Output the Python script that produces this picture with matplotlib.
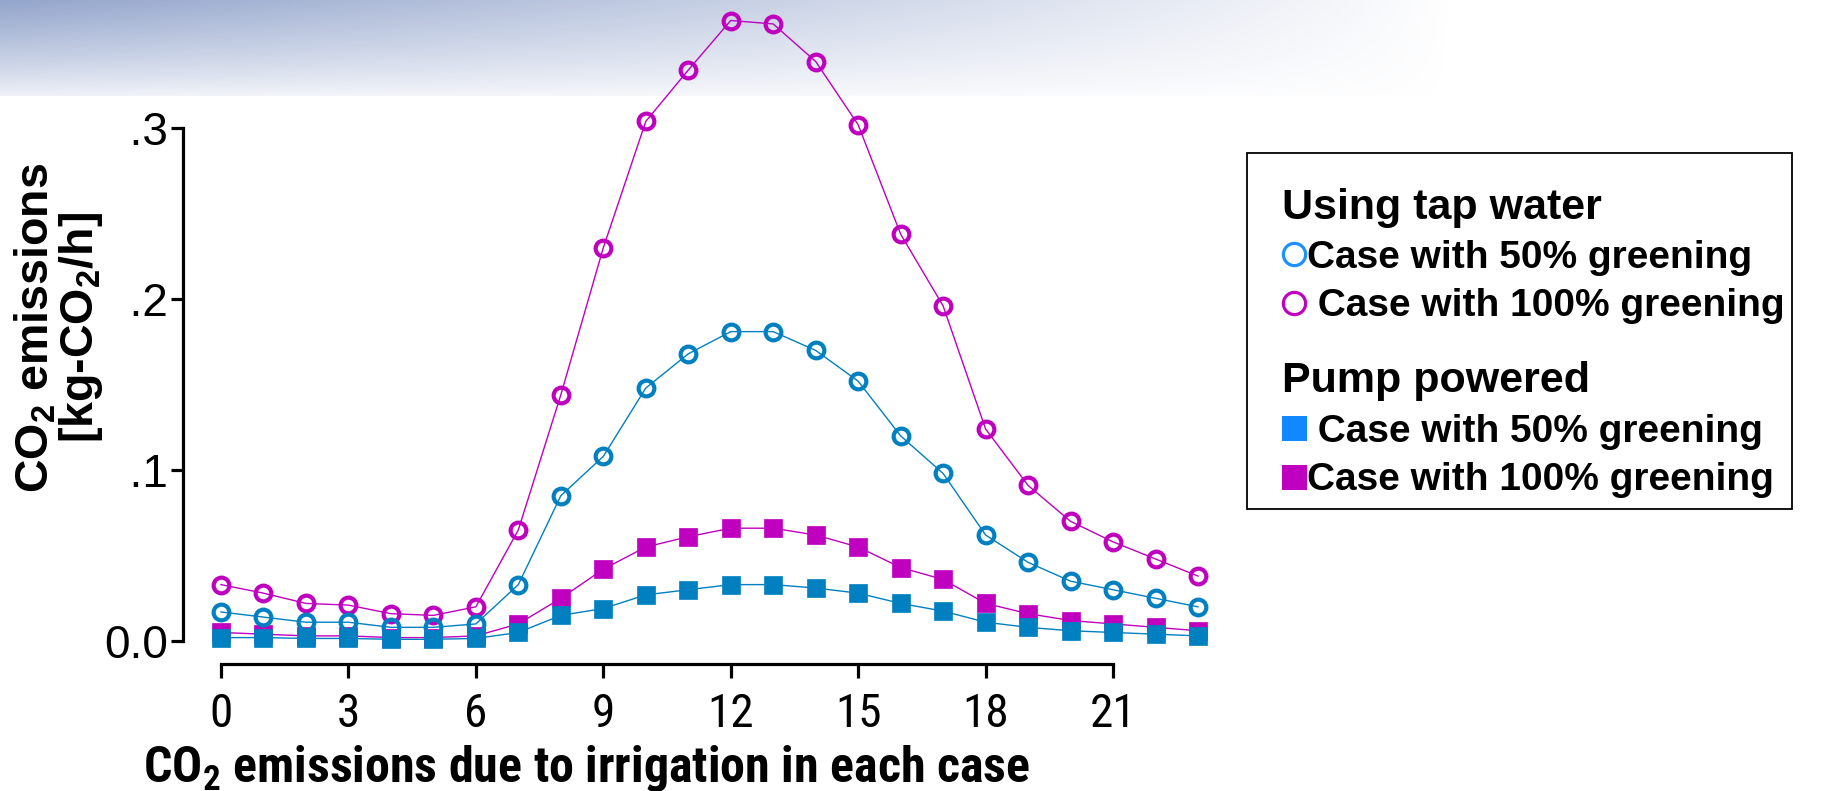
import numpy as np
import matplotlib
matplotlib.use("Agg")
import matplotlib.pyplot as plt
from matplotlib import font_manager as fm
from matplotlib.lines import Line2D
from matplotlib.patches import Rectangle
from matplotlib.font_manager import FontProperties
from matplotlib.transforms import Bbox, TransformedBbox

plt.rcParams['font.family'] = ['Liberation Sans', 'DejaVu Sans']
plt.rcParams['mathtext.default'] = 'regular'

W, H = 1827, 791

hours = list(range(24))
tap_50 = [0.017, 0.014, 0.011, 0.011, 0.008, 0.008, 0.010, 0.033, 0.085, 0.108, 0.148, 0.168,
          0.181, 0.181, 0.170, 0.152, 0.120, 0.098, 0.062, 0.046, 0.035, 0.030, 0.025, 0.020]
tap_100 = [0.033, 0.028, 0.022, 0.021, 0.016, 0.015, 0.020, 0.065, 0.144, 0.230, 0.304, 0.334,
           0.363, 0.361, 0.339, 0.302, 0.238, 0.196, 0.124, 0.091, 0.070, 0.058, 0.048, 0.038]
pump_50 = [0.002, 0.002, 0.0015, 0.0015, 0.001, 0.001, 0.0015, 0.005, 0.015, 0.019, 0.027, 0.030,
           0.033, 0.033, 0.031, 0.028, 0.022, 0.0175, 0.011, 0.008, 0.006, 0.005, 0.004, 0.003]
pump_100 = [0.005, 0.004, 0.003, 0.003, 0.002, 0.002, 0.003, 0.010, 0.025, 0.042, 0.055, 0.061,
            0.066, 0.066, 0.062, 0.055, 0.043, 0.036, 0.022, 0.016, 0.012, 0.010, 0.008, 0.006]

xticks = [0, 3, 6, 9, 12, 15, 18, 21]
yticks = [0.0, 0.1, 0.2, 0.3]
ytick_labels = ['0.0', '0.1', '0.2', '0.3']

mag = '#BF00BF'
blue = '#0080C0'


def has_font(name):
    try:
        fm.findfont(FontProperties(family=name), fallback_to_default=False)
        return True
    except ValueError:
        return False


narrow = next((f for f in ['Liberation Sans Narrow', 'Roboto Condensed', 'Open Sans Condensed']
               if has_font(f)), None)
if narrow:
    narrow_fam = [narrow, 'Liberation Sans']
    xtick_size, xlabel_size = 34, 36
else:
    narrow_fam = ['Liberation Sans']
    xtick_size, xlabel_size = 32, 30

fig = plt.figure(figsize=(W / 100, H / 100), dpi=100)

# faded banner at the top (slide background)
bg = fig.add_axes([0, 0, 1, 1], zorder=-10)
bg.axis('off')
yy, xx = np.mgrid[0:H, 0:W]
alpha = np.clip(1 - xx / 1450.0, 0, 1) ** 0.9 * np.clip(1 - yy / 105.0, 0, 1) ** 0.8
alpha[yy > 95] = 0
img = np.ones((H, W, 4))
img[..., 0], img[..., 1], img[..., 2] = 0.58, 0.65, 0.80
img[..., 3] = alpha
bg.imshow(img, extent=(0, W, H, 0), aspect='auto')
bg.set_xlim(0, W)
bg.set_ylim(H, 0)

# main axes
left, right = 178.5, 1223.5
top, bottom = 0.0, 683.75
ax = fig.add_axes([left / W, (H - bottom) / H, (right - left) / W, (bottom - top) / H])
ax.patch.set_alpha(0)
ax.set_xlim(-1.0, 23.6)
ax.set_ylim(-0.025, 0.375)

ax.plot(hours, pump_100, color=mag, lw=1.0, marker='s', ms=13, mfc=mag, mec=mag, mew=0.5,
        clip_on=False, zorder=3)
ax.plot(hours, pump_50, color=blue, lw=1.0, marker='s', ms=13, mfc=blue, mec=blue, mew=0.5,
        clip_on=False, zorder=4)
ax.plot(hours, tap_100, color=mag, lw=1.0, marker='o', ms=11.3, mfc='none', mec=mag, mew=3.0,
        clip_on=False, zorder=5)
ax.plot(hours, tap_50, color=blue, lw=1.0, marker='o', ms=11.3, mfc='none', mec=blue, mew=3.0,
        clip_on=False, zorder=6)

for s in ['top', 'right']:
    ax.spines[s].set_visible(False)
ax.spines['left'].set_position(('data', -0.895))
ax.spines['left'].set_bounds(0, 0.3)
ax.spines['bottom'].set_position(('data', -0.0135))
ax.spines['bottom'].set_bounds(0, 21)
for s in ['left', 'bottom']:
    ax.spines[s].set_linewidth(2.3)

ax.set_xticks(xticks)
ax.set_xticklabels([str(t) for t in xticks], family=narrow_fam, fontsize=xtick_size)
ax.set_yticks(yticks)
ax.set_yticklabels(ytick_labels, fontsize=33)
ax.tick_params(axis='x', direction='out', length=10, width=2.3, pad=10)
ax.tick_params(axis='y', direction='out', length=9, width=2.3, pad=2)

# left part of upper y labels is hidden in the original
clip = TransformedBbox(Bbox([[132 / W, 0], [1, 1]]), fig.transFigure)
for lbl in ax.get_yticklabels():
    if lbl.get_text() != '0.0':
        lbl.set_clip_on(True)
        lbl.set_clip_box(clip)

fig.text(587 / W, 1 - 769 / H, 'CO$_2$ emissions due to irrigation in each case',
         ha='center', va='center', fontsize=xlabel_size, weight='bold', family=narrow_fam)
fig.text(59 / W, 1 - 328 / H, 'CO$_2$ emissions\n[kg-CO$_2$/h]', rotation=90,
         ha='center', va='center', multialignment='center', fontsize=33.5, weight='bold',
         linespacing=0.95)

# legend
handles = [
    Line2D([], [], ls='none'),
    Line2D([], [], ls='none', marker='o', ms=16, mfc='none', mec='#1E90FF', mew=2.3),
    Line2D([], [], ls='none', marker='o', ms=16, mfc='none', mec='#C000C0', mew=2.3),
    Line2D([], [], ls='none'),
    Line2D([], [], ls='none'),
    Line2D([], [], ls='none', marker='s', ms=18, mfc='#1188FF', mec='#1188FF', mew=0),
    Line2D([], [], ls='none', marker='s', ms=18, mfc='#C000C0', mec='#C000C0', mew=0),
]
labels = ['Using tap water', 'Case with 50% greening', ' Case with 100% greening', ' ',
          'Pump powered', ' Case with 50% greening', 'Case with 100% greening']
leg = ax.legend(handles, labels, loc='upper left', bbox_to_anchor=(1247 / W, 1 - 153 / H),
                bbox_transform=fig.transFigure, frameon=False,
                prop=FontProperties(family='Liberation Sans', weight='bold', size=28),
                handlelength=0.65, handletextpad=0.0, labelspacing=0.32,
                borderpad=0.89, borderaxespad=0)
texts = leg.get_texts()
texts[0].set_fontsize(31)
texts[4].set_fontsize(31)
texts[3].set_fontsize(9)

# headings start at the left edge, without handle space; spacer row kept thin
for col in leg._legend_handle_box.get_children():
    for i, hp in enumerate(col.get_children()):
        if labels[i] in ('Using tap water', 'Pump powered', ' '):
            hp.get_children()[0].width = 0
            hp.sep = 0
        if labels[i] == ' ':
            hp.get_children()[0].height = 0

# legend box
fig.patches.append(Rectangle((1247 / W, 1 - 509 / H), 545 / W, 356 / H,
                             transform=fig.transFigure, fill=False, edgecolor='black',
                             linewidth=1.3, zorder=5))

fig.savefig('out.png', dpi=100)
